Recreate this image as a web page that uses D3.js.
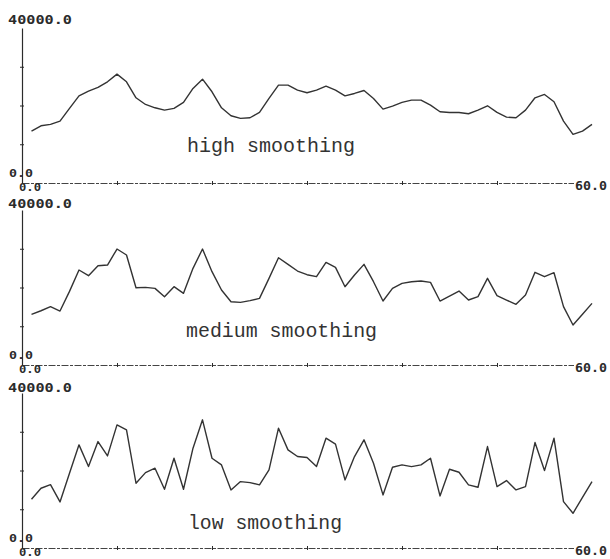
<!DOCTYPE html>
<html>
<head>
<meta charset="utf-8">
<script src="https://cdn.jsdelivr.net/npm/d3@7"></script>
<style>
  html, body { margin: 0; padding: 0; background: #fff; }
  svg { display: block; }
</style>
</head>
<body>
<svg id="chart" width="610" height="559"></svg>
<script>
// ---- data ----
const timeSteps = [1,2,3,4,5,6,7,8,9,10,11,12,13,14,15,16,17,18,19,20,
  21,22,23,24,25,26,27,28,29,30,31,32,33,34,35,36,37,38,39,40,
  41,42,43,44,45,46,47,48,49,50,51,52,53,54,55,56,57,58,59,60];

const highSmoothing = [13400,14770,15120,15980,19250,22500,23710,24660,26110,28090,
  26110,21990,20270,19410,18810,19250,20790,24400,26800,23540,
  19410,17350,16670,16840,18210,21820,25250,25250,23970,23280,
  23970,25000,23970,22500,23110,23880,21820,19070,19840,20790,
  21390,21390,20100,18380,18210,18210,17870,18810,19930,18210,
  17010,16840,18810,21990,22850,20960,15980,12540,13400,15120];

const mediumSmoothing = [13080,14000,15040,13930,19000,24510,23040,25620,25800,29930,
  28380,19950,20040,19780,17630,20210,18490,24940,29930,24080,
  19350,16340,16170,16600,17200,22360,27690,25970,24250,23300,
  22790,26490,25200,20210,23220,25970,21500,16510,19780,21070,
  21500,21670,21330,16510,17800,19090,16770,17630,22360,17890,
  16770,15650,18060,23910,22790,23820,15050,10320,13080,15910];

const lowSmoothing = [12580,15420,16360,11890,19300,26620,21010,27470,23770,31780,
  30490,16710,19460,20590,15160,23170,15160,25760,33080,23170,
  21450,14990,17140,16880,16280,20150,30920,25320,23600,23340,
  21010,28340,26790,17570,23600,27910,21880,13700,20840,21450,
  21010,21450,23170,13440,20330,19550,16280,15680,26180,15850,
  17400,14990,15850,27220,19980,28340,11970,8960,13090,17140];

const panelTitles = ["high smoothing", "medium smoothing", "low smoothing"];
const yMaxLabel = "40000.0";
const yMinLabel = "0.0";
const xMinLabel = "0.0";
const xMaxLabel = "60.0";
const yTickValues = [10000, 20000, 30000];
const xTickValues = [10, 20, 30, 40, 50];

// ---- layout ----
const svg = d3.select("#chart");
const left = 22, right = 592;
const x = d3.scaleLinear().domain([0, 60]).range([left, right]);

const panels = [
  { series: highSmoothing,   top: 28,  bottom: 183, titleX: 187, titleY: 152, titleLen: 168, maxY: 24 },
  { series: mediumSmoothing, top: 210, bottom: 365, titleX: 186, titleY: 337, titleLen: 191, maxY: 208 },
  { series: lowSmoothing,    top: 393, bottom: 548, titleX: 188, titleY: 529, titleLen: 154, maxY: 392 }
];

const ink = "#2b2b2b";
const labelFont = "'DejaVu Sans Mono', 'Liberation Mono', monospace";
const titleFont = "'Liberation Mono', 'Courier New', monospace";

panels.forEach((p, i) => {
  const y = d3.scaleLinear().domain([0, 40000]).range([p.bottom, p.top]);
  const g = svg.append("g");

  // y axis
  const yAxis = d3.axisLeft(y).tickValues(yTickValues).tickSize(2).tickSizeOuter(0).tickFormat("");
  const ya = g.append("g").attr("transform", `translate(${left},0)`).call(yAxis);
  ya.select(".domain").attr("stroke", ink).attr("stroke-width", 1.2);
  ya.selectAll(".tick line").attr("stroke", ink).attr("x1", 2).attr("x2", -2);

  // x axis
  const xAxis = d3.axisBottom(x).tickValues(xTickValues).tickSize(2).tickSizeOuter(0).tickFormat("");
  const xa = g.append("g").attr("transform", `translate(0,${p.bottom})`).call(xAxis);
  xa.select(".domain").attr("stroke", "#444").attr("stroke-width", 1)
    .attr("stroke-dasharray", "7,1.5,3,1.5");
  xa.selectAll(".tick line").attr("stroke", ink).attr("y1", -2).attr("y2", 2);

  // labels
  g.append("text").attr("x", 8).attr("y", p.maxY)
    .attr("font-family", labelFont).attr("font-weight", "bold").attr("font-size", 13)
    .attr("textLength", 64).attr("lengthAdjust", "spacingAndGlyphs")
    .attr("fill", ink).text(yMaxLabel);
  g.append("text").attr("x", 9).attr("y", p.bottom - 6)
    .attr("font-family", labelFont).attr("font-weight", "bold").attr("font-size", 11)
    .attr("textLength", 24).attr("lengthAdjust", "spacingAndGlyphs")
    .attr("fill", ink).text(yMinLabel);
  g.append("text").attr("x", 19).attr("y", p.bottom + 8)
    .attr("font-family", labelFont).attr("font-weight", "bold").attr("font-size", 11)
    .attr("textLength", 22).attr("lengthAdjust", "spacingAndGlyphs")
    .attr("fill", ink).text(xMinLabel);
  g.append("rect").attr("x", 574).attr("y", p.bottom - 4).attr("width", 36).attr("height", 11).attr("fill", "#fff");
  g.append("text").attr("x", 575).attr("y", p.bottom + 7)
    .attr("font-family", labelFont).attr("font-weight", "bold").attr("font-size", 12)
    .attr("textLength", 32).attr("lengthAdjust", "spacingAndGlyphs")
    .attr("fill", ink).text(xMaxLabel);

  // title
  g.append("text").attr("x", p.titleX).attr("y", p.titleY)
    .attr("font-family", titleFont).attr("font-size", 20)
    .attr("textLength", p.titleLen).attr("lengthAdjust", "spacingAndGlyphs")
    .attr("fill", "#333").text(panelTitles[i]);

  // line
  const line = d3.line().x((d, j) => x(timeSteps[j])).y(d => y(d));
  g.append("path").datum(p.series)
    .attr("fill", "none").attr("stroke", "#333").attr("stroke-width", 1.4)
    .attr("stroke-linejoin", "round")
    .attr("d", line);
});
</script>
</body>
</html>
